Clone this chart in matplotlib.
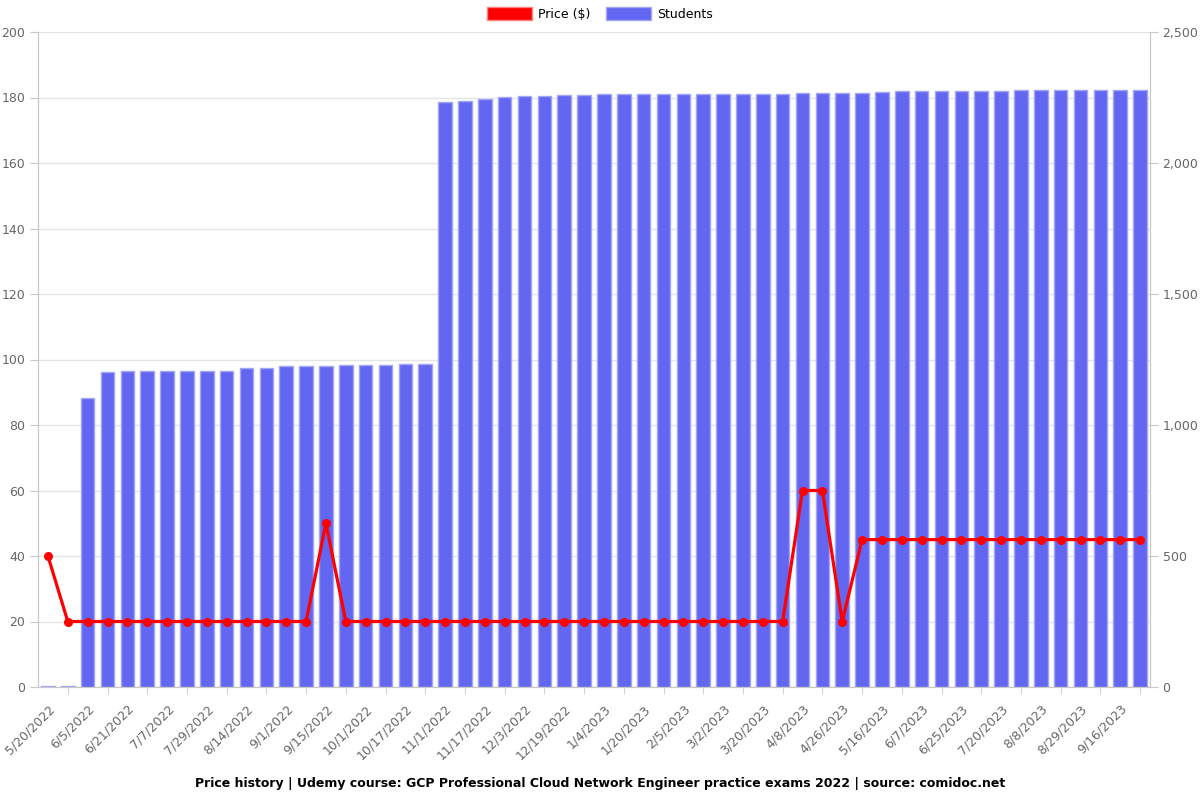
import numpy as np
import matplotlib.pyplot as plt
from matplotlib.patches import Patch
from matplotlib.ticker import FuncFormatter, MultipleLocator, FixedLocator

# tick labels shown under every other bar
date_labels = ["5/20/2022", "6/5/2022", "6/21/2022", "7/7/2022", "7/29/2022", "8/14/2022",
               "9/1/2022", "9/15/2022", "10/1/2022", "10/17/2022", "11/1/2022", "11/17/2022",
               "12/3/2022", "12/19/2022", "1/4/2023", "1/20/2023", "2/5/2023", "3/2/2023",
               "3/20/2023", "4/8/2023", "4/26/2023", "5/16/2023", "6/7/2023", "6/25/2023",
               "7/20/2023", "8/8/2023", "8/29/2023", "9/16/2023"]

# price in $ per snapshot
price = [40, 20, 20, 20, 20, 20, 20, 20, 20, 20, 20, 20, 20, 20, 50, 20, 20, 20, 20, 20,
         20, 20, 20, 20, 20, 20, 20, 20, 20, 20, 20, 20, 20, 20, 20, 20, 20, 20, 60, 60,
         20, 45, 45, 45, 45, 45, 45, 45, 45, 45, 45, 45, 45, 45, 45, 45]

# number of students per snapshot
students = [2, 4, 1102, 1202, 1206, 1206, 1206, 1206, 1206, 1206, 1216, 1217, 1224, 1224,
            1225, 1228, 1229, 1230, 1233, 1233, 2234, 2238, 2244, 2252, 2256, 2256, 2260,
            2260, 2262, 2262, 2263, 2263, 2263, 2263, 2263, 2263, 2263, 2265, 2266, 2268,
            2268, 2268, 2270, 2274, 2274, 2275, 2275, 2276, 2276, 2279, 2279, 2279, 2279,
            2279, 2279, 2279]

x = np.arange(len(price))
grid_c = "#e5e5e5"
axis_c = "#c8c8c8"
text_c = "#666666"
bar_c = "#6366F1"
bar_edge = "#A3A5F6"

fig = plt.figure(figsize=(12, 8), dpi=100)
ax = fig.add_axes([38 / 1200, 113 / 800, 1112 / 1200, 655 / 800])
ax2 = ax.twinx()

# bars + grid live on the back axis, price line on the front one
ax2.bar(x, students, width=0.68, color=bar_c, edgecolor=bar_edge, linewidth=1, zorder=2)
ax2.set_ylim(0, 2500)
ax2.yaxis.set_major_locator(MultipleLocator(500))
ax2.yaxis.set_minor_locator(MultipleLocator(250))
ax2.yaxis.set_major_formatter(FuncFormatter(lambda v, p: f"{int(v):,}"))
ax2.grid(axis="y", which="both", color=grid_c, linewidth=1, zorder=0)
ax2.grid(axis="x", which="minor", color=grid_c, linewidth=1, zorder=0)
ax2.tick_params(axis="y", which="minor", length=0)
ax2.set_axisbelow(True)

ax.set_zorder(ax2.get_zorder() + 1)
ax.patch.set_visible(False)
ax.plot(x, price, color="#ff0000", linewidth=2.3, marker="o", markersize=5.5, zorder=3)
ax.set_ylim(0, 200)
ax.yaxis.set_major_locator(MultipleLocator(20))
ax.set_xlim(-0.5, len(price) - 0.5)

ax.xaxis.set_major_locator(FixedLocator(x[::2]))
ax.xaxis.set_minor_locator(FixedLocator(x[1::2]))
ax.set_xticklabels(date_labels, rotation=45, ha="right", rotation_mode="anchor")
ax.tick_params(axis="x", which="major", length=0, pad=11, labelsize=9, labelcolor=text_c)
ax.tick_params(axis="x", which="minor", length=5, color=axis_c)
ax.tick_params(axis="y", length=6, pad=3, color=axis_c, labelsize=9, labelcolor=text_c)
ax2.tick_params(axis="y", which="major", length=5.5, pad=3.5, color=axis_c,
                labelsize=9, labelcolor=text_c)

for a in (ax, ax2):
    for s in a.spines.values():
        s.set_color(axis_c)
    a.spines["top"].set_visible(False)

handles = [Patch(facecolor="#ff0000", edgecolor="#ff8080", label="Price ($)"),
           Patch(facecolor=bar_c, edgecolor=bar_edge, label="Students")]
fig.legend(handles=handles, loc="upper center", bbox_to_anchor=(0.5, 1.005), ncol=2,
           frameon=False, fontsize=9, handlelength=3.6, handleheight=1.25,
           columnspacing=1.2, handletextpad=0.5)

fig.text(0.5, 17 / 800, "Price history | Udemy course: GCP Professional Cloud Network Engineer "
         "practice exams 2022 | source: comidoc.net", ha="center", va="center",
         fontsize=9, fontweight="bold")

fig.savefig("out.png", dpi=100)
